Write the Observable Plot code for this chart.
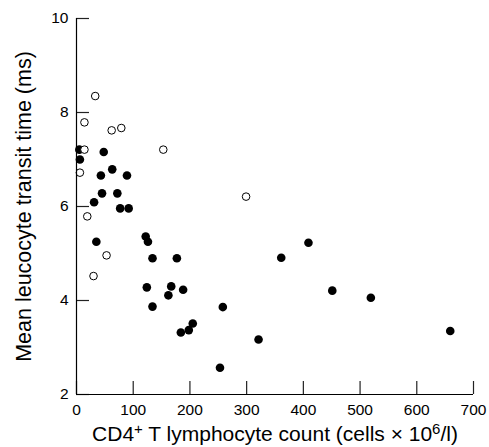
<!DOCTYPE html>
<html>
<head>
<meta charset="utf-8">
<script src="https://cdn.jsdelivr.net/npm/d3@7"></script>
<script src="https://cdn.jsdelivr.net/npm/@observablehq/plot@0.6"></script>
<style>
  html, body { margin: 0; padding: 0; background: #fff; }
  #chart svg { display: block; }
</style>
</head>
<body>
<div id="chart"></div>
<script>
// CD4+ T lymphocyte count (cells x 10^6/l) and mean leucocyte transit time (ms)
const filledX = [5, 6, 48, 63, 43, 89, 45, 72, 31, 77, 92, 122, 126, 35, 134, 177, 124, 167, 162, 188, 134, 205, 198, 184, 258, 253, 321, 361, 409, 451, 519, 659];
const filledY = [7.21, 7.00, 7.16, 6.79, 6.66, 6.66, 6.28, 6.28, 6.09, 5.96, 5.96, 5.36, 5.25, 5.25, 4.90, 4.90, 4.28, 4.30, 4.11, 4.23, 3.87, 3.51, 3.37, 3.32, 3.86, 2.57, 3.17, 4.91, 5.23, 4.21, 4.06, 3.35];
const openX = [33, 14, 62, 79, 14, 153, 6, 19, 53, 30, 299];
const openY = [8.35, 7.79, 7.62, 7.67, 7.21, 7.21, 6.72, 5.79, 4.96, 4.52, 6.21];

const xTicks = [0, 100, 200, 300, 400, 500, 600, 700];
const yTicks = [2, 4, 6, 8, 10];
const xLabel = "CD4⁺ T lymphocyte count (cells × 10⁶/l)";
const yLabel = "Mean leucocyte transit time (ms)";

const filled = filledX.map((x, i) => ({x, y: filledY[i]}));
const open = openX.map((x, i) => ({x, y: openY[i]}));

const W = 489, H = 447, ML = 76, MR = 16, MT = 18, MB = 53;
const xDom = [0, 700], yDom = [2, 10];
const TICK = 13; // inward tick length in pixels
const tickDX = TICK * (xDom[1] - xDom[0]) / (W - ML - MR);
const tickDY = TICK * (yDom[1] - yDom[0]) / (H - MT - MB);

const chart = Plot.plot({
  width: W, height: H, marginLeft: ML, marginRight: MR, marginTop: MT, marginBottom: MB,
  style: {fontFamily: "'Liberation Sans', Arial, sans-serif"},
  x: {domain: xDom},
  y: {domain: yDom},
  marks: [
    Plot.axisX({ticks: xTicks, tickSize: 0, tickPadding: 9, fontSize: 15.5, label: xLabel, labelAnchor: "center", labelOffset: 46, labelArrow: "none"}),
    Plot.axisY({ticks: yTicks, tickSize: 0, tickPadding: 8, fontSize: 15.5, label: yLabel, labelAnchor: "center", labelOffset: 61, labelArrow: "none"}),
    Plot.dot(filled, {x: "x", y: "y", r: 4.3, fill: "#000", stroke: "none"}),
    Plot.dot(open, {x: "x", y: "y", r: 3.8, fill: "#fff", stroke: "#000", strokeWidth: 1}),
    Plot.ruleX(xTicks, {x: d => d, y1: yDom[0], y2: yDom[0] + tickDY, stroke: "#222", strokeWidth: 1.2}),
    Plot.ruleY(yTicks, {y: d => d, x1: xDom[0], x2: xDom[0] + tickDX, stroke: "#222", strokeWidth: 1.2}),
    Plot.ruleX([xDom[0]], {stroke: "#000", strokeWidth: 1.2}),
    Plot.ruleY([yDom[0]], {stroke: "#000", strokeWidth: 1.2})
  ]
});
document.getElementById("chart").appendChild(chart);

// label styling: larger titles, real superscripts
const svg = d3.select(chart);
svg.selectAll('g[aria-label="y-axis label"] text').style("font-size", "21.5px");
const xl = svg.selectAll('g[aria-label="x-axis label"] text').style("font-size", "21px");
xl.each(function () {
  const t = d3.select(this);
  t.text(null);
  t.append("tspan").text("CD4");
  t.append("tspan").attr("dy", "-7").style("font-size", "15px").text("+");
  t.append("tspan").attr("dy", "7").text(" T lymphocyte count (cells × 10");
  t.append("tspan").attr("dy", "-7").style("font-size", "15px").text("6");
  t.append("tspan").attr("dy", "7").text("/l)");
});
</script>
</body>
</html>
